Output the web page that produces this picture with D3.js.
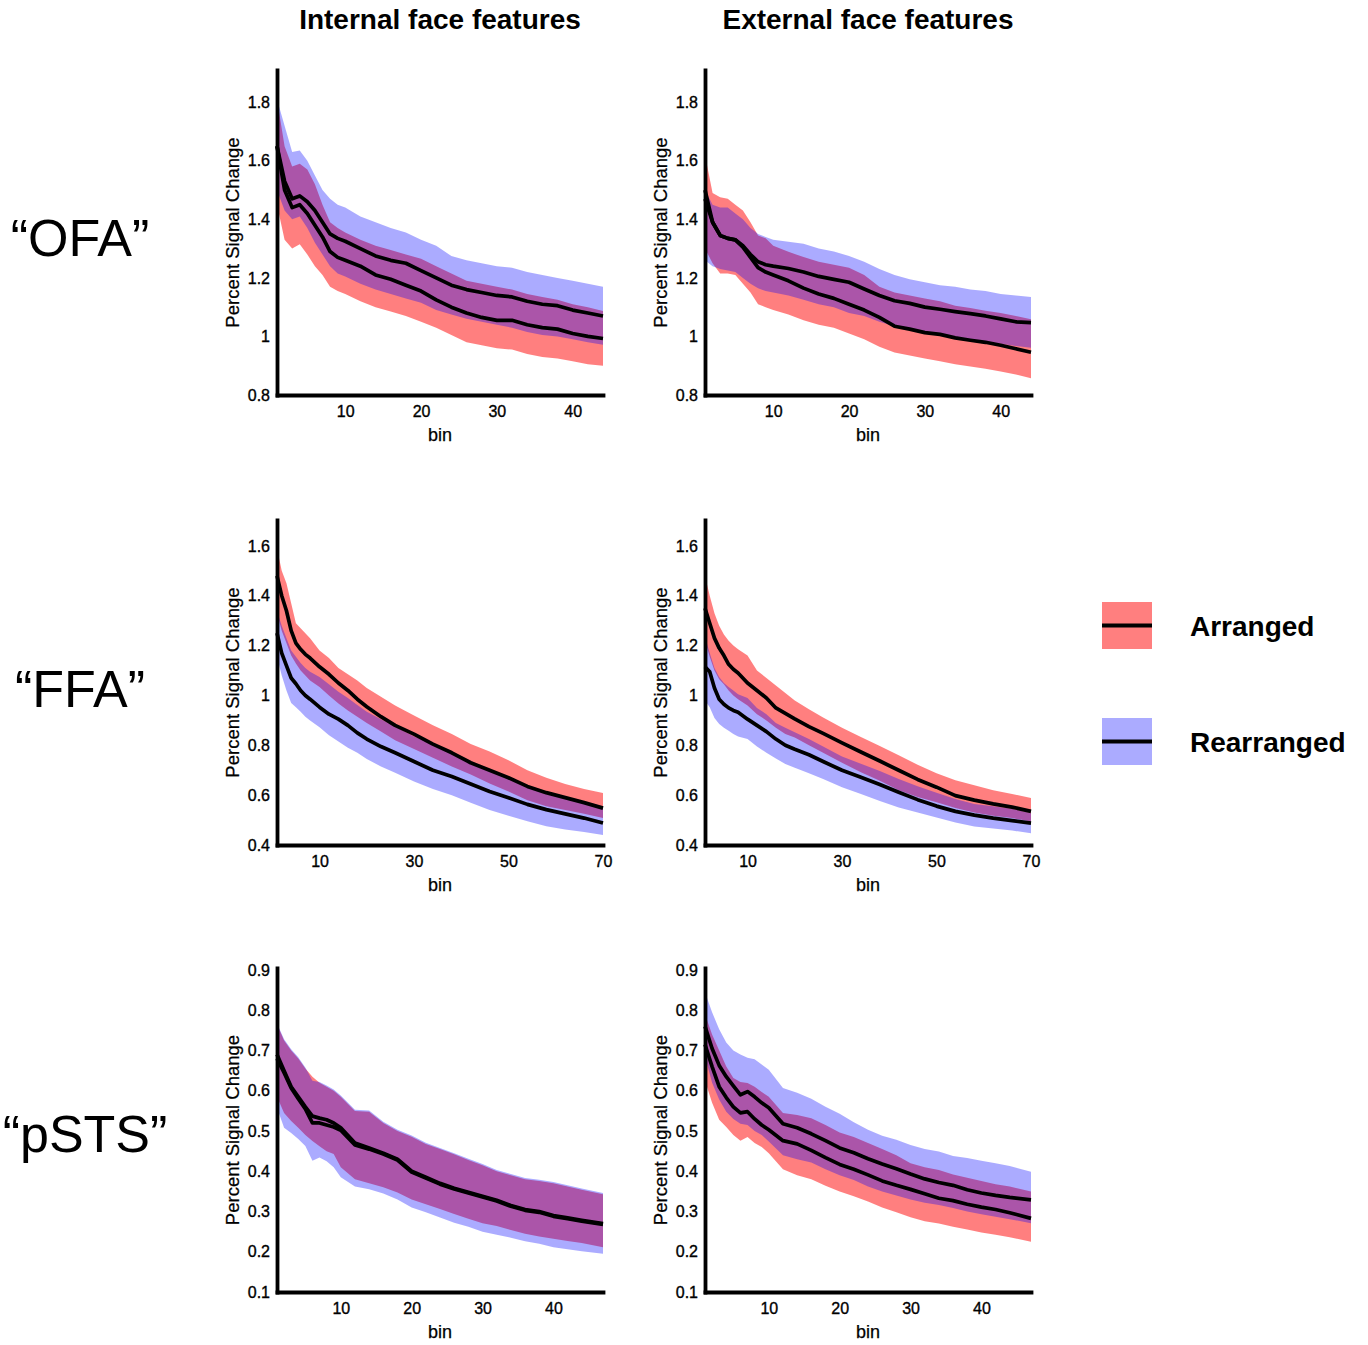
<!DOCTYPE html>
<html>
<head>
<meta charset="utf-8">
<script src="https://cdn.jsdelivr.net/npm/d3@7"></script>
<style>
  body { margin: 0; background: #fff; }
  text { font-family: "Liberation Sans", Arial, Helvetica, sans-serif; fill: #000; }
</style>
</head>
<body>
<svg id="chart" width="1368" height="1345"></svg>
<script>
// ---- data ----
const colTitles = ["Internal face features", "External face features"];
const rowLabels = ["\u201COFA\u201D", "\u201CFFA\u201D", "\u201CpSTS\u201D"];
const legendLabels = ["Arranged", "Rearranged"];

const ofaBins = [1,2,3,4,5,6,7,8,9,10,12,14,16,18,20,22,24,26,28,30,32,34,36,38,40,42,44];
const ffaBins = [1,2,3,4,5,6,7,8,10,12,14,16,18,20,23,26,30,34,38,42,46,50,54,58,62,66,70];
const pstsBins = [1,2,3,4,5,6,7,8,9,10,12,14,16,18,20,22,24,26,28,30,32,34,36,38,40,42,44,47];

const ofaYTicks = [0.8, 1, 1.2, 1.4, 1.6, 1.8];
const ffaYTicks = [0.4, 0.6, 0.8, 1, 1.2, 1.4, 1.6];
const pstsYTicks = [0.1, 0.2, 0.3, 0.4, 0.5, 0.6, 0.7, 0.8, 0.9];
const ofaXTicks = [10, 20, 30, 40];
const ffaXTicks = [10, 30, 50, 70];
const pstsXTicks = [10, 20, 30, 40];

// OFA, internal
const ofaIntArrMean = [1.65,1.50,1.44,1.45,1.42,1.38,1.34,1.29,1.27,1.26,1.24,1.21,1.195,1.175,1.155,1.125,1.10,1.08,1.065,1.055,1.055,1.04,1.03,1.025,1.01,1.00,0.993];
const ofaIntArrHi = [1.81,1.65,1.58,1.59,1.57,1.52,1.45,1.39,1.37,1.355,1.33,1.31,1.295,1.28,1.265,1.24,1.215,1.19,1.18,1.17,1.16,1.145,1.135,1.125,1.11,1.10,1.087];
const ofaIntArrLo = [1.45,1.33,1.30,1.315,1.28,1.24,1.21,1.17,1.155,1.145,1.12,1.10,1.085,1.07,1.05,1.03,1.005,0.98,0.97,0.96,0.955,0.94,0.93,0.925,0.915,0.905,0.90];
const ofaIntRearMean = [1.65,1.53,1.47,1.48,1.46,1.43,1.39,1.35,1.335,1.325,1.30,1.275,1.26,1.25,1.225,1.20,1.175,1.16,1.15,1.14,1.135,1.12,1.11,1.105,1.09,1.08,1.07];
const ofaIntRearHi = [1.81,1.72,1.63,1.635,1.60,1.55,1.50,1.47,1.45,1.44,1.41,1.39,1.37,1.355,1.33,1.31,1.275,1.26,1.25,1.24,1.235,1.22,1.21,1.20,1.19,1.18,1.17];
const ofaIntRearLo = [1.50,1.43,1.40,1.41,1.37,1.32,1.28,1.24,1.215,1.205,1.18,1.16,1.145,1.13,1.115,1.09,1.075,1.06,1.05,1.04,1.03,1.015,1.005,1.00,0.99,0.98,0.972];

// OFA, external
const ofaExtArrMean = [1.50,1.39,1.345,1.335,1.33,1.305,1.27,1.235,1.22,1.21,1.19,1.165,1.145,1.13,1.11,1.09,1.065,1.035,1.025,1.013,1.007,0.995,0.987,0.98,0.97,0.958,0.946];
const ofaExtArrHi = [1.62,1.49,1.475,1.47,1.45,1.43,1.39,1.345,1.335,1.31,1.289,1.271,1.255,1.245,1.235,1.21,1.17,1.15,1.14,1.13,1.12,1.105,1.097,1.088,1.08,1.07,1.059];
const ofaExtArrLo = [1.30,1.25,1.215,1.215,1.21,1.18,1.15,1.11,1.10,1.09,1.075,1.055,1.04,1.03,1.01,0.99,0.965,0.945,0.935,0.925,0.915,0.905,0.897,0.89,0.88,0.87,0.857];
const ofaExtRearMean = [1.47,1.39,1.345,1.335,1.33,1.31,1.28,1.255,1.245,1.24,1.232,1.22,1.205,1.195,1.185,1.162,1.14,1.122,1.113,1.10,1.093,1.085,1.078,1.07,1.06,1.05,1.047];
const ofaExtRearHi = [1.50,1.45,1.44,1.44,1.42,1.40,1.37,1.35,1.34,1.33,1.323,1.317,1.30,1.29,1.275,1.255,1.23,1.21,1.195,1.185,1.175,1.17,1.16,1.155,1.145,1.14,1.135];
const ofaExtRearLo = [1.26,1.24,1.23,1.225,1.22,1.20,1.18,1.165,1.155,1.15,1.14,1.125,1.11,1.10,1.08,1.07,1.05,1.035,1.02,1.01,1.005,0.995,0.99,0.98,0.975,0.967,0.961];

// FFA, internal
const ffaIntArrMean = [1.48,1.40,1.34,1.26,1.21,1.185,1.165,1.15,1.115,1.085,1.05,1.02,0.985,0.955,0.915,0.88,0.845,0.805,0.77,0.73,0.70,0.67,0.635,0.61,0.59,0.57,0.548];
const ffaIntArrHi = [1.59,1.50,1.45,1.37,1.29,1.27,1.25,1.23,1.18,1.15,1.11,1.085,1.06,1.03,0.995,0.96,0.92,0.88,0.845,0.805,0.775,0.74,0.70,0.67,0.645,0.625,0.609];
const ffaIntArrLo = [1.33,1.26,1.21,1.16,1.128,1.10,1.08,1.06,1.034,1.00,0.968,0.94,0.915,0.89,0.855,0.82,0.785,0.75,0.715,0.683,0.647,0.615,0.58,0.555,0.54,0.525,0.508];
const ffaIntRearMean = [1.25,1.17,1.12,1.07,1.047,1.02,1.00,0.985,0.953,0.925,0.905,0.88,0.85,0.825,0.795,0.77,0.735,0.70,0.675,0.645,0.615,0.59,0.563,0.542,0.525,0.508,0.488];
const ffaIntRearHi = [1.34,1.28,1.23,1.18,1.155,1.13,1.11,1.095,1.074,1.045,1.015,0.99,0.962,0.935,0.905,0.875,0.835,0.805,0.77,0.737,0.70,0.67,0.64,0.615,0.59,0.575,0.555];
const ffaIntRearLo = [1.155,1.08,1.02,0.97,0.953,0.935,0.915,0.90,0.872,0.84,0.815,0.79,0.77,0.745,0.715,0.69,0.655,0.625,0.60,0.57,0.54,0.517,0.495,0.475,0.462,0.452,0.44];

// FFA, external
const ffaExtArrMean = [1.35,1.29,1.23,1.19,1.16,1.125,1.105,1.09,1.05,1.02,0.99,0.95,0.928,0.906,0.875,0.848,0.81,0.773,0.737,0.70,0.663,0.632,0.598,0.58,0.565,0.552,0.535];
const ffaExtArrHi = [1.48,1.40,1.33,1.28,1.245,1.22,1.20,1.185,1.16,1.10,1.07,1.04,1.01,0.98,0.945,0.912,0.87,0.833,0.797,0.76,0.722,0.688,0.66,0.64,0.62,0.605,0.589];
const ffaExtArrLo = [1.22,1.155,1.10,1.065,1.045,1.02,1.00,0.985,0.96,0.925,0.90,0.87,0.845,0.831,0.80,0.77,0.73,0.692,0.658,0.62,0.593,0.572,0.548,0.53,0.517,0.508,0.494];
const ffaExtRearMean = [1.115,1.095,1.03,0.985,0.965,0.95,0.94,0.933,0.905,0.88,0.855,0.825,0.80,0.784,0.762,0.735,0.70,0.672,0.643,0.612,0.582,0.556,0.535,0.52,0.508,0.498,0.488];
const ffaExtRearHi = [1.236,1.17,1.11,1.074,1.05,1.034,1.02,1.005,0.99,0.95,0.925,0.89,0.87,0.852,0.825,0.795,0.755,0.726,0.697,0.665,0.636,0.61,0.585,0.565,0.555,0.545,0.528];
const ffaExtRearLo = [0.98,0.953,0.91,0.885,0.87,0.858,0.845,0.835,0.825,0.795,0.77,0.747,0.725,0.71,0.688,0.665,0.632,0.605,0.577,0.55,0.53,0.51,0.49,0.474,0.466,0.458,0.447];

// pSTS, internal
const pstsIntArrMean = [0.69,0.65,0.61,0.585,0.56,0.537,0.532,0.528,0.52,0.508,0.47,0.458,0.445,0.43,0.40,0.385,0.37,0.358,0.348,0.338,0.328,0.315,0.305,0.30,0.29,0.284,0.278,0.27];
const pstsIntArrHi = [0.765,0.725,0.70,0.68,0.655,0.635,0.62,0.61,0.60,0.585,0.55,0.548,0.52,0.50,0.486,0.468,0.455,0.442,0.428,0.415,0.40,0.39,0.38,0.376,0.37,0.362,0.354,0.343];
const pstsIntArrLo = [0.585,0.545,0.525,0.508,0.49,0.475,0.462,0.45,0.443,0.41,0.38,0.37,0.36,0.347,0.33,0.318,0.306,0.294,0.282,0.271,0.264,0.254,0.245,0.238,0.232,0.227,0.222,0.211];
const pstsIntRearMean = [0.68,0.645,0.607,0.58,0.555,0.52,0.52,0.515,0.51,0.502,0.465,0.455,0.443,0.428,0.398,0.383,0.368,0.356,0.346,0.336,0.326,0.313,0.303,0.298,0.288,0.282,0.276,0.268];
const pstsIntRearHi = [0.768,0.728,0.703,0.683,0.658,0.625,0.622,0.613,0.603,0.588,0.553,0.551,0.523,0.503,0.489,0.471,0.458,0.445,0.431,0.418,0.403,0.393,0.383,0.379,0.373,0.365,0.357,0.346];
const pstsIntRearLo = [0.558,0.508,0.495,0.48,0.463,0.426,0.434,0.425,0.41,0.385,0.362,0.355,0.345,0.33,0.31,0.298,0.285,0.272,0.262,0.25,0.242,0.235,0.226,0.22,0.211,0.206,0.201,0.195];

// pSTS, external
const pstsExtArrMean = [0.715,0.66,0.61,0.583,0.56,0.545,0.548,0.53,0.515,0.503,0.476,0.468,0.452,0.434,0.417,0.405,0.391,0.376,0.365,0.355,0.344,0.333,0.327,0.318,0.311,0.305,0.297,0.283];
const pstsExtArrHi = [0.79,0.74,0.70,0.66,0.632,0.622,0.619,0.61,0.597,0.585,0.545,0.54,0.532,0.515,0.496,0.485,0.47,0.455,0.44,0.42,0.41,0.403,0.392,0.384,0.376,0.368,0.362,0.35];
const pstsExtArrLo = [0.625,0.57,0.528,0.51,0.49,0.476,0.485,0.47,0.46,0.445,0.405,0.39,0.38,0.364,0.35,0.338,0.325,0.31,0.298,0.286,0.276,0.27,0.262,0.255,0.248,0.242,0.236,0.225];
const pstsExtRearMean = [0.76,0.705,0.663,0.635,0.612,0.59,0.598,0.585,0.57,0.558,0.518,0.508,0.493,0.476,0.458,0.446,0.431,0.418,0.406,0.393,0.381,0.372,0.365,0.354,0.346,0.34,0.335,0.329];
const pstsExtRearHi = [0.845,0.795,0.753,0.72,0.70,0.69,0.682,0.678,0.665,0.652,0.607,0.595,0.58,0.56,0.543,0.522,0.503,0.488,0.478,0.465,0.455,0.449,0.438,0.433,0.426,0.42,0.413,0.399];
const pstsExtRearLo = [0.685,0.62,0.578,0.548,0.53,0.518,0.515,0.50,0.49,0.474,0.44,0.43,0.422,0.405,0.39,0.378,0.362,0.35,0.34,0.33,0.322,0.316,0.309,0.30,0.293,0.287,0.281,0.271];

// ---- layout ----
const svg = d3.select("#chart");
const font = '"Liberation Sans", Arial, Helvetica, sans-serif';
const redFill = "rgba(255,0,0,0.5)";
const blueFill = "rgba(0,0,255,0.33)";

const cols = [{left: 277, right: 603}, {left: 705, right: 1031}];
const rows = [
  {bottom: 395, top: 70, yMin: 0.8, yMax: 1.91, yTicks: ofaYTicks, bins: ofaBins, xMax: 44, xTicks: ofaXTicks},
  {bottom: 845, top: 520, yMin: 0.4, yMax: 1.704, yTicks: ffaYTicks, bins: ffaBins, xMax: 70, xTicks: ffaXTicks},
  {bottom: 1292, top: 968, yMin: 0.1, yMax: 0.905, yTicks: pstsYTicks, bins: pstsBins, xMax: 47, xTicks: pstsXTicks}
];

const panels = [
  {row: 0, col: 0, arr: [ofaIntArrMean, ofaIntArrLo, ofaIntArrHi], rear: [ofaIntRearMean, ofaIntRearLo, ofaIntRearHi]},
  {row: 0, col: 1, arr: [ofaExtArrMean, ofaExtArrLo, ofaExtArrHi], rear: [ofaExtRearMean, ofaExtRearLo, ofaExtRearHi]},
  {row: 1, col: 0, arr: [ffaIntArrMean, ffaIntArrLo, ffaIntArrHi], rear: [ffaIntRearMean, ffaIntRearLo, ffaIntRearHi]},
  {row: 1, col: 1, arr: [ffaExtArrMean, ffaExtArrLo, ffaExtArrHi], rear: [ffaExtRearMean, ffaExtRearLo, ffaExtRearHi]},
  {row: 2, col: 0, arr: [pstsIntArrMean, pstsIntArrLo, pstsIntArrHi], rear: [pstsIntRearMean, pstsIntRearLo, pstsIntRearHi]},
  {row: 2, col: 1, arr: [pstsExtArrMean, pstsExtArrLo, pstsExtArrHi], rear: [pstsExtRearMean, pstsExtRearLo, pstsExtRearHi]}
];

panels.forEach(p => {
  const r = rows[p.row], c = cols[p.col];
  const x = d3.scaleLinear().domain([1, r.xMax]).range([c.left, c.right]);
  const y = d3.scaleLinear().domain([r.yMin, r.yMax]).range([r.bottom, r.top]);
  const idx = d3.range(r.bins.length);
  const g = svg.append("g");

  function band(series, fill) {
    const area = d3.area()
      .x(i => x(r.bins[i]))
      .y0(i => y(series[1][i]))
      .y1(i => y(series[2][i]));
    g.append("path").datum(idx).attr("d", area).attr("fill", fill);
  }
  function meanLine(series) {
    const line = d3.line().x(i => x(r.bins[i])).y(i => y(series[0][i]));
    g.append("path").datum(idx).attr("d", line)
      .attr("fill", "none").attr("stroke", "#000")
      .attr("stroke-width", 3.7).attr("stroke-linejoin", "round");
  }

  band(p.arr, redFill);
  band(p.rear, blueFill);
  meanLine(p.arr);
  meanLine(p.rear);

  // axes
  const yAxis = g.append("g")
    .attr("transform", `translate(${c.left},0)`)
    .call(d3.axisLeft(y).tickValues(r.yTicks).tickSize(0).tickPadding(7).tickFormat(d => String(d)));
  const xAxis = g.append("g")
    .attr("transform", `translate(0,${r.bottom})`)
    .call(d3.axisBottom(x).tickValues(r.xTicks).tickSize(0).tickPadding(11));
  [yAxis, xAxis].forEach(a => {
    a.select(".domain").attr("stroke", "#000").attr("stroke-width", 3.8).attr("stroke-linecap", "square");
    a.selectAll("text").attr("font-family", font).attr("font-size", 16).attr("fill", "#000")
      .attr("stroke", "#000").attr("stroke-width", 0.35);
  });

  g.append("text")
    .attr("transform", `translate(${c.left - 38},${(r.top + r.bottom) / 2}) rotate(-90)`)
    .attr("text-anchor", "middle")
    .attr("font-size", 18.5)
    .attr("stroke", "#000").attr("stroke-width", 0.25)
    .text("Percent Signal Change");

  g.append("text")
    .attr("x", (c.left + c.right) / 2)
    .attr("y", r.bottom + 46)
    .attr("text-anchor", "middle")
    .attr("font-size", 18)
    .attr("stroke", "#000").attr("stroke-width", 0.25)
    .text("bin");
});

// column titles
svg.selectAll(".coltitle").data(colTitles).enter().append("text")
  .attr("class", "coltitle")
  .attr("x", (d, i) => (cols[i].left + cols[i].right) / 2)
  .attr("y", 29)
  .attr("text-anchor", "middle")
  .attr("font-size", 28)
  .attr("font-weight", "bold")
  .text(d => d);

// row labels
svg.selectAll(".rowlabel").data(rowLabels).enter().append("text")
  .attr("class", "rowlabel")
  .attr("x", (d, i) => i === 2 ? 85 : 80)
  .attr("y", (d, i) => [256, 707, 1152][i])
  .attr("text-anchor", "middle")
  .attr("font-size", 52)
  .text(d => d);

// legend
const legend = svg.append("g");
const legendY = [602, 718];
const legendFills = [redFill, blueFill];
legendLabels.forEach((lab, i) => {
  legend.append("rect")
    .attr("x", 1102).attr("y", legendY[i])
    .attr("width", 50).attr("height", 47)
    .attr("fill", legendFills[i]);
  legend.append("line")
    .attr("x1", 1102).attr("x2", 1152)
    .attr("y1", legendY[i] + 23.5).attr("y2", legendY[i] + 23.5)
    .attr("stroke", "#000").attr("stroke-width", 4);
  legend.append("text")
    .attr("x", 1190).attr("y", legendY[i] + 34)
    .attr("font-size", 28).attr("font-weight", "bold")
    .text(lab);
});
</script>
</body>
</html>
